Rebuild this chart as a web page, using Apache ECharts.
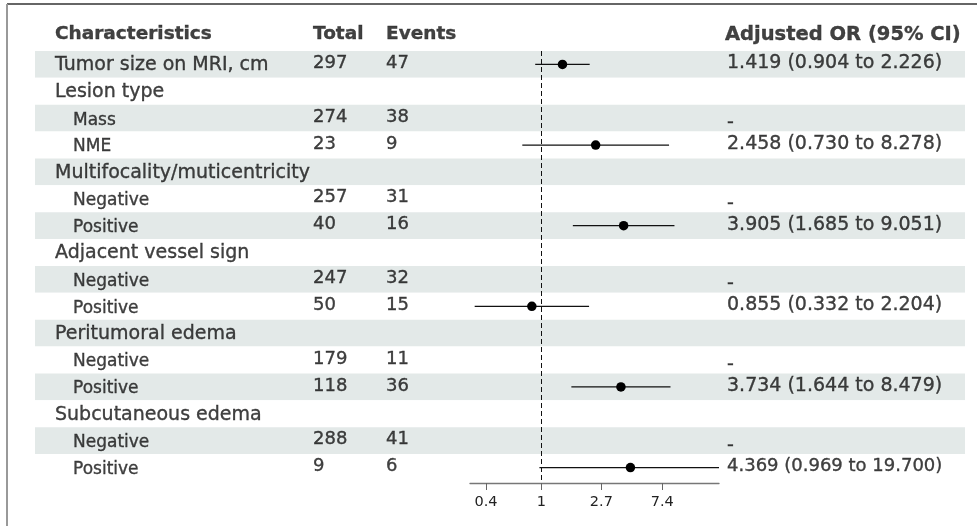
<!DOCTYPE html>
<html lang="en">
<head>
<meta charset="UTF-8">
<title>forest plot - adjusted OR</title>
<script src="https://cdn.jsdelivr.net/npm/echarts@6/dist/echarts.min.js"></script>
<style>html,body{margin:0;padding:0;background:#fff;}</style>
</head>
<body>
<div id="main" style="width:977px;height:526px"></div>
<script>
// table rows
var labels = ['Tumor size on MRI, cm', 'Lesion type', 'Mass', 'NME', 'Multifocality/muticentricity',
    'Negative', 'Positive', 'Adjacent vessel sign', 'Negative', 'Positive', 'Peritumoral edema',
    'Negative', 'Positive', 'Subcutaneous edema', 'Negative', 'Positive'];
var levels = [0, 0, 1, 1, 0, 1, 1, 0, 1, 1, 0, 1, 1, 0, 1, 1];
var totals = [297, null, 274, 23, null, 257, 40, null, 247, 50, null, 179, 118, null, 288, 9];
var events = [47, null, 38, 9, null, 31, 16, null, 32, 15, null, 11, 36, null, 41, 6];
var orValue = [1.419, null, null, 2.458, null, null, 3.905, null, null, 0.855, null, null, 3.734, null, null, 4.369];
var ciLower = [0.904, null, null, 0.730, null, null, 1.685, null, null, 0.332, null, null, 1.644, null, null, 0.969];
var ciUpper = [2.226, null, null, 8.278, null, null, 9.051, null, null, 2.204, null, null, 8.479, null, null, 19.700];
var headers = ['Characteristics', 'Total', 'Events', 'Adjusted OR (95% CI)'];
var tickValues = [0.4, 1, 2.7, 7.4];
var tickLabels = ['0.4', '1', '2.7', '7.4'];

var FONT = '"DejaVu Sans", Verdana, sans-serif';
var TXT = '#111';
// column x positions (page px, grid 0 x axis runs 35..965)
var colX = {name: 55, sub: 73, total: 313, events: 386, or: 727};

var myChart = echarts.init(document.getElementById('main'));

function textItem(x, row, text, size, bold, dy) {
    return {
        value: [x, row],
        label: {
            formatter: text,
            fontSize: size,
            fontWeight: bold ? 'bold' : 'normal',
            offset: [0, dy || 0]
        }
    };
}

var textData = [];
textData.push(textItem(colX.name, 0, headers[0], 18.5, true, -3));
textData.push(textItem(colX.total, 0, headers[1], 18.5, true, -3));
textData.push(textItem(colX.events, 0, headers[2], 18.5, true, -3));
textData.push(textItem(colX.or - 2, 0, headers[3], 19.5, true, -3));

for (var i = 0; i < labels.length; i++) {
    var r = i + 1;
    if (levels[i] === 0) {
        textData.push(textItem(colX.name, r, labels[i], 19, false, 1));
    } else {
        textData.push(textItem(colX.sub, r, labels[i], 17, false, 2));
    }
    if (totals[i] != null) textData.push(textItem(colX.total, r, String(totals[i]), 18, false, -1));
    if (events[i] != null) textData.push(textItem(colX.events, r, String(events[i]), 18, false, -1));
    if (orValue[i] != null) {
        var s = orValue[i].toFixed(3) + ' (' + ciLower[i].toFixed(3) + ' to ' + ciUpper[i].toFixed(3) + ')';
        // the long one is squeezed to the same width in the original
        textData.push(textItem(colX.or, r, s, s.length > 22 ? 18 : 19, false, -1));
    } else if (levels[i] === 1 && totals[i] != null) {
        textData.push(textItem(colX.or, r, '-', 19, false, 5));
    }
}

var ciData = [], dotData = [];
for (var j = 0; j < orValue.length; j++) {
    if (orValue[j] == null) continue;
    ciData.push([Math.log(ciLower[j]), Math.log(ciUpper[j]), j]);
    dotData.push([Math.log(orValue[j]), j]);
}

var rowIds0 = [], rowIds1 = [];
for (var k = 0; k <= labels.length; k++) rowIds0.push(String(k));
for (var k2 = 0; k2 < labels.length; k2++) rowIds1.push(String(k2));

var option = {
    backgroundColor: '#fff',
    animation: false,
    textStyle: {fontFamily: FONT, color: TXT},
    graphic: [
        {type: 'line', shape: {x1: 7, y1: 4, x2: 977, y2: 4}, style: {stroke: '#333', lineWidth: 1.5}},
        {type: 'line', shape: {x1: 7, y1: 4, x2: 7, y2: 526}, style: {stroke: '#999', lineWidth: 2}}
    ],
    grid: [
        {left: 35, right: 12, top: 24, bottom: 45},
        {left: 470, right: 258, top: 51, bottom: 45}
    ],
    xAxis: [
        {gridIndex: 0, type: 'value', min: 35, max: 965, show: false},
        {
            gridIndex: 1, type: 'value', min: -1.18, max: 2.94, offset: 2,
            axisLine: {show: true, lineStyle: {color: '#777', width: 1.3}},
            axisTick: {show: true, length: 7, lineStyle: {color: '#666'},
                customValues: tickValues.map(function (v) { return Math.log(v); })},
            axisLabel: {
                fontSize: 14.5, color: '#222', fontFamily: FONT, margin: 12,
                customValues: tickValues.map(function (v) { return Math.log(v); }),
                formatter: function (val) {
                    for (var t = 0; t < tickValues.length; t++) {
                        if (Math.abs(Math.log(tickValues[t]) - val) < 1e-6) return tickLabels[t];
                    }
                    return '';
                }
            },
            splitLine: {show: false}
        }
    ],
    yAxis: [
        {
            gridIndex: 0, type: 'category', inverse: true, data: rowIds0,
            axisLine: {show: false}, axisTick: {show: false}, axisLabel: {show: false},
            splitLine: {show: false},
            splitArea: {show: true, areaStyle: {color: ['#ffffff', '#e3e9e8']}}
        },
        {
            gridIndex: 1, type: 'category', inverse: true, data: rowIds1, show: false
        }
    ],
    series: [
        {
            name: 'text', type: 'scatter', xAxisIndex: 0, yAxisIndex: 0,
            symbolSize: 0, silent: true,
            label: {show: true, position: 'right', distance: 0, align: 'left',
                verticalAlign: 'middle', color: TXT, fontFamily: FONT,
                textBorderColor: TXT, textBorderWidth: 0.35},
            data: textData
        },
        {
            name: 'CI', type: 'custom', xAxisIndex: 1, yAxisIndex: 1, silent: true,
            encode: {x: [0, 1], y: 2},
            renderItem: function (params, api) {
                var cs = params.coordSys;
                var p1 = api.coord([api.value(0), api.value(2)]);
                var p2 = api.coord([api.value(1), api.value(2)]);
                var x1 = Math.max(p1[0], cs.x), x2 = Math.min(p2[0], cs.x + cs.width);
                return {
                    type: 'line',
                    shape: {x1: x1, y1: p1[1], x2: x2, y2: p2[1]},
                    style: {stroke: '#111', lineWidth: 1.3}
                };
            },
            data: ciData,
            z: 3
        },
        {
            name: 'OR', type: 'scatter', xAxisIndex: 1, yAxisIndex: 1,
            symbol: 'circle', symbolSize: 9.5, silent: true,
            itemStyle: {color: '#000', opacity: 1},
            data: dotData,
            z: 4,
            markLine: {
                silent: true, symbol: 'none', label: {show: false},
                lineStyle: {type: [5, 3], color: '#111', width: 1},
                data: [{xAxis: 0}]
            }
        }
    ]
};

myChart.setOption(option);
</script>
</body>
</html>
